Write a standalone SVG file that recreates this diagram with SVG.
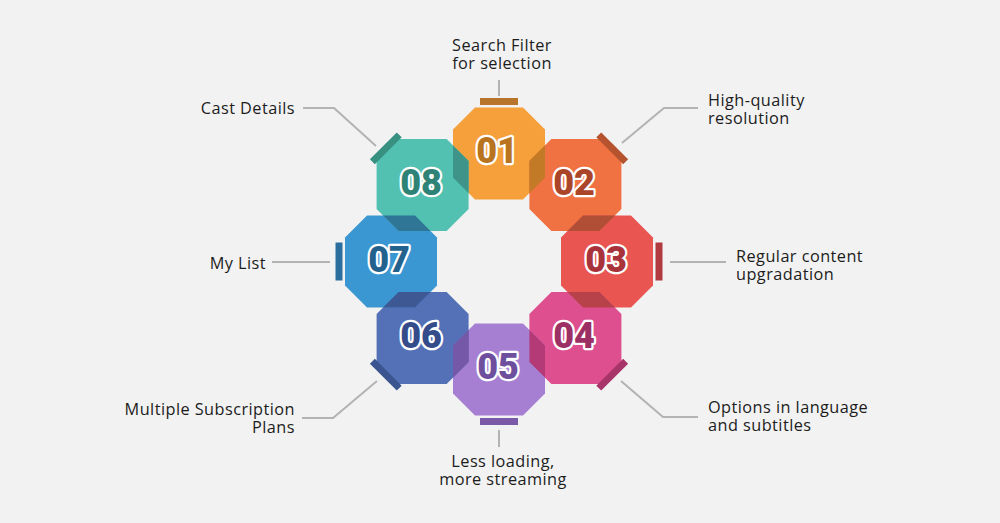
<svg xmlns="http://www.w3.org/2000/svg" xmlns:xlink="http://www.w3.org/1999/xlink" width="1000" height="523" viewBox="0 0 1000 523">
<style>
.lbl{font-family:"Open Sans","Liberation Sans",sans-serif;font-size:16.3px;letter-spacing:0.45px;fill:#1c1c1c}
.num{font-family:Roboto,"Liberation Sans",sans-serif;font-weight:900;font-size:36px;text-anchor:middle;stroke:#fff;stroke-width:4.5;paint-order:stroke;stroke-linejoin:round}
.conn{fill:none;stroke:#b3b3b3;stroke-width:2}
</style>
<defs>
<path id="oct" d="M-24,-46 L24,-46 L46,-24 L46,24 L24,46 L-24,46 L-46,24 L-46,-24 Z"/>
<clipPath id="c1"><use xlink:href="#oct" transform="translate(499,153.5)"/></clipPath>
<clipPath id="c2"><use xlink:href="#oct" transform="translate(575.4,185.1)"/></clipPath>
<clipPath id="c3"><use xlink:href="#oct" transform="translate(607,261.5)"/></clipPath>
<clipPath id="c4"><use xlink:href="#oct" transform="translate(575.4,337.9)"/></clipPath>
<clipPath id="c5"><use xlink:href="#oct" transform="translate(499,369.5)"/></clipPath>
<clipPath id="c6"><use xlink:href="#oct" transform="translate(422.6,337.9)"/></clipPath>
<clipPath id="c7"><use xlink:href="#oct" transform="translate(391,261.5)"/></clipPath>
<clipPath id="c8"><use xlink:href="#oct" transform="translate(422.6,185.1)"/></clipPath>
</defs>
<rect width="1000" height="523" fill="#f2f2f2"/>

<g id="connectors">
<polyline class="conn" points="499,96 499,80"/>
<polyline class="conn" points="622,143 664,108 698,108"/>
<polyline class="conn" points="670,262 726,262"/>
<polyline class="conn" points="621,381 663,417 698,417"/>
<polyline class="conn" points="499,430 499,447"/>
<polyline class="conn" points="377,381 333,418 302,418"/>
<polyline class="conn" points="330,262 272,262"/>
<polyline class="conn" points="376,146 334,108 303,108"/>
</g>

<g id="node01">
<use xlink:href="#oct" transform="translate(499,153.5)" fill="#f5a03b"/>
<rect x="-19" y="-3.5" width="38" height="7" fill="#b8742a" transform="translate(499,101.5)"/>
</g>
<g id="node02">
<use xlink:href="#oct" transform="translate(575.4,185.1)" fill="#f07142"/>
<rect x="-19" y="-3.5" width="38" height="7" fill="#b5532f" transform="translate(612.2,148.3) rotate(45)"/>
</g>
<g id="node03">
<use xlink:href="#oct" transform="translate(607,261.5)" fill="#e95652"/>
<rect x="-19" y="-3.5" width="38" height="7" fill="#b03a40" transform="translate(659,261.5) rotate(90)"/>
</g>
<g id="node04">
<use xlink:href="#oct" transform="translate(575.4,337.9)" fill="#de4f8f"/>
<rect x="-19" y="-3.5" width="38" height="7" fill="#a8356a" transform="translate(612.2,374.7) rotate(135)"/>
</g>
<g id="node05">
<use xlink:href="#oct" transform="translate(499,369.5)" fill="#a67fd2"/>
<rect x="-19" y="-3.5" width="38" height="7" fill="#7a5aa8" transform="translate(499,421.5)"/>
</g>
<g id="node06">
<use xlink:href="#oct" transform="translate(422.6,337.9)" fill="#5471b7"/>
<rect x="-19" y="-3.5" width="38" height="7" fill="#3a5590" transform="translate(385.8,374.7) rotate(225)"/>
</g>
<g id="node07">
<use xlink:href="#oct" transform="translate(391,261.5)" fill="#3b97d1"/>
<rect x="-19" y="-3.5" width="38" height="7" fill="#2a6ea0" transform="translate(339,261.5) rotate(90)"/>
</g>
<g id="node08">
<use xlink:href="#oct" transform="translate(422.6,185.1)" fill="#53c1b1"/>
<rect x="-19" y="-3.5" width="38" height="7" fill="#389080" transform="translate(385.8,148.3) rotate(315)"/>
</g>

<g id="overlaps">
<g clip-path="url(#c2)"><use xlink:href="#oct" transform="translate(499,153.5)" fill="#c27a26"/></g>
<g clip-path="url(#c3)"><use xlink:href="#oct" transform="translate(575.4,185.1)" fill="#b04e36"/></g>
<g clip-path="url(#c4)"><use xlink:href="#oct" transform="translate(607,261.5)" fill="#b8424a"/></g>
<g clip-path="url(#c5)"><use xlink:href="#oct" transform="translate(575.4,337.9)" fill="#b33a76"/></g>
<g clip-path="url(#c6)"><use xlink:href="#oct" transform="translate(499,369.5)" fill="#7658a8"/></g>
<g clip-path="url(#c7)"><use xlink:href="#oct" transform="translate(422.6,337.9)" fill="#3e5894"/></g>
<g clip-path="url(#c8)"><use xlink:href="#oct" transform="translate(391,261.5)" fill="#2e7596"/></g>
<g clip-path="url(#c1)"><use xlink:href="#oct" transform="translate(422.6,185.1)" fill="#3e9488"/></g>
</g>

<g id="numbers">
<text class="num" x="497" y="163" fill="#b8741f">01</text>
<text class="num" x="574" y="195" fill="#aa452a">02</text>
<text class="num" x="606" y="272" fill="#a8333a">03</text>
<text class="num" x="574" y="348" fill="#9c2f63">04</text>
<text class="num" x="498" y="379" fill="#6e4f9e">05</text>
<text class="num" x="421" y="348" fill="#344c8a">06</text>
<text class="num" x="389" y="272" fill="#24628e">07</text>
<text class="num" x="421" y="195" fill="#2f8276">08</text>
</g>

<g id="labels">
<text class="lbl" x="502" y="50.5" text-anchor="middle">Search Filter</text>
<text class="lbl" x="502" y="68.5" text-anchor="middle">for selection</text>
<text class="lbl" x="708" y="105.5">High-quality</text>
<text class="lbl" x="708" y="123.5">resolution</text>
<text class="lbl" x="736" y="261.5">Regular content</text>
<text class="lbl" x="736" y="279.5">upgradation</text>
<text class="lbl" x="708" y="413">Options in language</text>
<text class="lbl" x="708" y="431">and subtitles</text>
<text class="lbl" x="503" y="466.5" text-anchor="middle">Less loading,</text>
<text class="lbl" x="503" y="484.5" text-anchor="middle">more streaming</text>
<text class="lbl" x="295" y="414.5" text-anchor="end">Multiple Subscription</text>
<text class="lbl" x="295" y="432.5" text-anchor="end">Plans</text>
<text class="lbl" x="266" y="269" text-anchor="end">My List</text>
<text class="lbl" x="295" y="114" text-anchor="end">Cast Details</text>
</g>
</svg>
